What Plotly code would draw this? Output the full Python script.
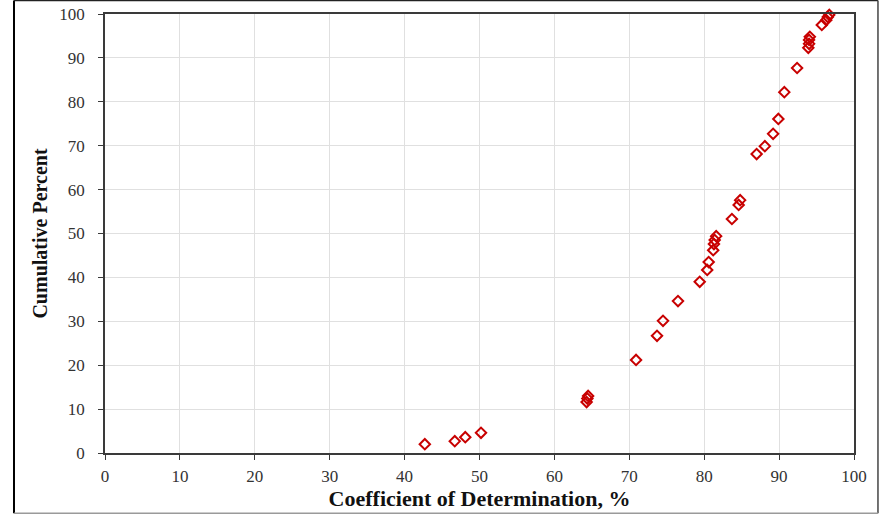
import plotly.graph_objects as go

# Coefficient of determination (%) for each case and its cumulative percent
r2_percent = [42.7, 46.7, 48.1, 50.2, 64.3, 64.4, 64.5, 70.9, 73.7, 74.5,
              76.5, 79.4, 80.4, 80.6, 81.2, 81.3, 81.4, 81.6, 83.7, 84.6,
              84.8, 87.0, 88.1, 89.2, 89.9, 90.7, 92.4, 93.9, 94.0, 94.0,
              94.1, 95.7, 96.3, 96.5, 96.7]
cumulative_percent = [2.0, 2.7, 3.6, 4.6, 11.6, 12.4, 13.0, 21.2, 26.7, 30.1,
                      34.6, 39.0, 41.7, 43.5, 46.2, 47.6, 48.5, 49.4, 53.3, 56.5,
                      57.6, 68.1, 69.9, 72.7, 76.1, 82.2, 87.7, 92.3, 93.2, 94.1,
                      94.8, 97.5, 98.6, 99.3, 99.8]

x_ticks = list(range(0, 101, 10))
y_ticks = list(range(0, 101, 10))

serif = "Liberation Serif, Times New Roman, serif"

fig = go.Figure(go.Scatter(
    x=r2_percent, y=cumulative_percent, mode="markers",
    marker=dict(symbol="diamond-open", size=8, color="#c80000",
                line=dict(color="#c80000", width=2)),
    showlegend=False, cliponaxis=False,
))

axis_common = dict(
    showgrid=True, gridcolor="#e0e0e0", gridwidth=1,
    showline=True, linecolor="#3a3a3a", linewidth=1.5, mirror=True,
    ticks="outside", ticklen=5, tickcolor="#3a3a3a",
    tickfont=dict(family=serif, size=17, color="#333333"),
    zeroline=False, automargin=False,
)

fig.update_layout(
    width=884, height=514,
    margin=dict(l=105, r=30, t=14, b=61),
    paper_bgcolor="white", plot_bgcolor="white",
    xaxis=dict(range=[0, 100], tickvals=x_ticks, **axis_common,
               ticklabelstandoff=2,
               title=dict(text="<b>Coefficient of Determination, %</b>",
                          font=dict(family=serif, size=22, color="#111111"),
                          standoff=1)),
    yaxis=dict(range=[0, 100], tickvals=y_ticks, **axis_common,
               ticklabelstandoff=10,
               title=dict(text="<b>Cumulative Percent</b>",
                          font=dict(family=serif, size=20, color="#111111"),
                          standoff=6)),
    shapes=[
        # outer frame around the whole chart
        dict(type="line", xref="paper", yref="paper", x0=-0.1215, x1=-0.1215,
             y0=-0.137, y1=1.031, line=dict(color="black", width=2)),
        dict(type="line", xref="paper", yref="paper", x0=-0.1215, x1=1.032,
             y0=1.031, y1=1.031, line=dict(color="#222222", width=1.5)),
        dict(type="line", xref="paper", yref="paper", x0=1.032, x1=1.032,
             y0=-0.137, y1=1.031, line=dict(color="#444444", width=1.5)),
        dict(type="line", xref="paper", yref="paper", x0=-0.1215, x1=1.032,
             y0=-0.137, y1=-0.137, line=dict(color="#9a9a9a", width=1.5)),
    ],
)

fig.write_html("out.html")
